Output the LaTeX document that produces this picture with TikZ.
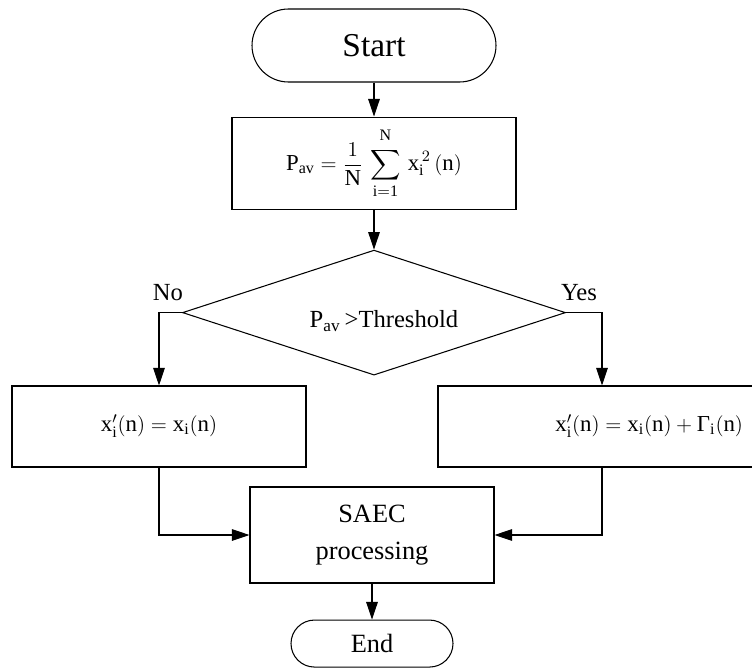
\documentclass[tikz,border=0pt]{standalone}
\usepackage{amsmath}
\usepackage{fontspec}
\setmainfont{Liberation Serif}
\usetikzlibrary{shapes.geometric, arrows.meta, positioning}

\begin{document}
\begin{tikzpicture}[
  box/.style={rectangle, draw, line width=0.6pt, text centered, inner sep=2pt},
  term/.style={rectangle, draw, line width=0.6pt, text centered, inner sep=2pt},
  dec/.style={diamond, draw, line width=0.6pt, aspect=3.06, inner sep=0pt,
              text centered},
  arrow/.style={-{Triangle[length=10pt, width=6.6pt]}, line width=0.6pt},
  lab/.style={font=\fontsize{14}{16}\selectfont},
  eq/.style={font=\fontsize{13}{15}\selectfont}
]
\useasboundingbox (0,0) rectangle (15.04,-13.36);

% --- Main column ---
\node[term, rounded corners=0.73cm, minimum width=4.88cm, minimum height=1.46cm,
      font=\fontsize{19}{22}\selectfont] (start) at (7.48,-0.91) {Start};
\node[box, eq, minimum width=5.68cm, minimum height=1.84cm, below=0.68cm of start] (power)
  {$\mathrm{P}_{\mathrm{av}} = \dfrac{1}{\mathrm{N}}\,\displaystyle\sum_{\mathrm{i=1}}^{\raisebox{0.08cm}{$\scriptstyle\mathrm{N}$}}\, \mathrm{x}_{\mathrm{i}}^{\,2}\,\mathrm{(n)}$};
\node[dec, minimum width=7.66cm, minimum height=2.5cm, font=\fontsize{14}{16}\selectfont,
      below=0.8cm of power] (check)
  {\raisebox{-0.3cm}[0pt][0pt]{\hspace{0.4cm}$\mathrm{P}_{\mathrm{av}}$\,>Threshold}};

% --- Branches ---
\node[box, eq, minimum width=5.88cm, minimum height=1.62cm] (keep) at (3.18,-8.53)
  {$\mathrm{x}_{\mathrm{i}}^{\prime}\mathrm{(n)} = \mathrm{x}_{\mathrm{i}}\mathrm{(n)}$};
\node[box, eq, minimum width=6.56cm, minimum height=1.62cm,
      inner xsep=0.46cm, text width=5.64cm, align=right] (shift) at (12.04,-8.53)
  {\mbox{$\mathrm{x}_{\mathrm{i}}^{\prime}\mathrm{(n)} = \mathrm{x}_{\mathrm{i}}\mathrm{(n)} + \text{Γ}_{\mathrm{i}}\mathrm{(n)}$}};

\node[box, minimum width=4.88cm, minimum height=1.92cm, align=center,
      font=\fontsize{15}{21}\selectfont] (saec) at (7.44,-10.7) {SAEC\\processing};
\node[term, rounded corners=0.47cm, minimum width=3.24cm, minimum height=0.94cm,
      font=\fontsize{15}{18}\selectfont, below=0.72cm of saec] (end) {End};

% --- Arrows ---
\draw[arrow] (start) -- (power);
\draw[arrow] (power) -- (check);
\draw[arrow] (check.west) -| (keep.north);
\draw[arrow] (check.east) -| (shift.north);
\draw[arrow] (keep.south) |- (saec.west);
\draw[arrow] (shift.south) |- (saec.east);
\draw[arrow] (saec) -- (end);

\node[lab, anchor=base] (no) at ([xshift=-0.28cm, yshift=0.24cm]check.west) {No};
\node[lab, anchor=base] (yes) at ([xshift=0.26cm, yshift=0.24cm]check.east) {Yes};

\end{tikzpicture}
\end{document}
